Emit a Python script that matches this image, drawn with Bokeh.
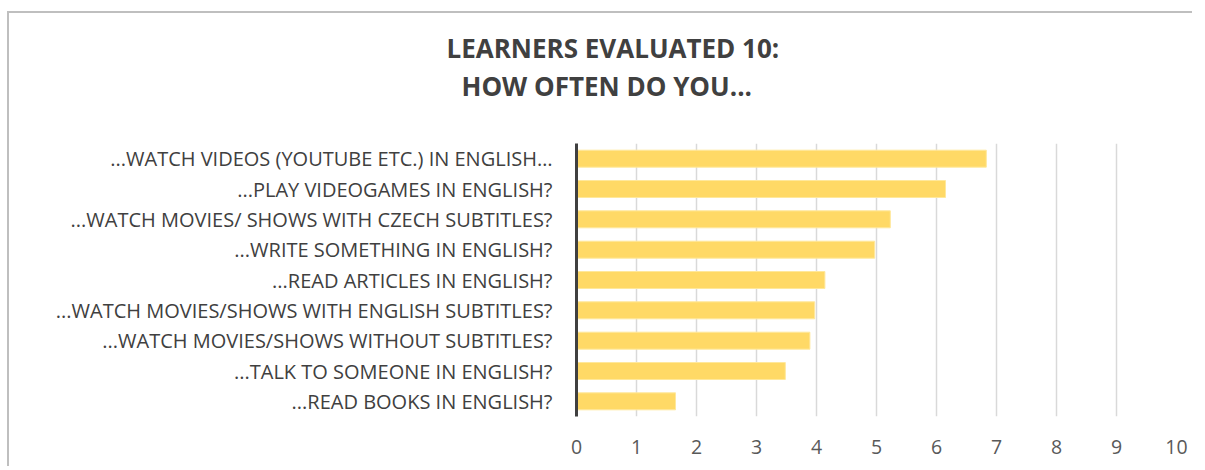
from bokeh.plotting import figure
from bokeh.models import FactorRange, Range1d, Title, FixedTicker, ColumnDataSource
from bokeh.embed import file_html
from bokeh.resources import INLINE

title_lines = ["LEARNERS EVALUATED 10:", "HOW OFTEN DO YOU..."]
categories = [
    "...WATCH VIDEOS (YOUTUBE ETC.) IN ENGLISH…",
    "...PLAY VIDEOGAMES IN ENGLISH?",
    "...WATCH MOVIES/ SHOWS WITH CZECH SUBTITLES?",
    "...WRITE SOMETHING IN ENGLISH?",
    "...READ ARTICLES IN ENGLISH?",
    "...WATCH MOVIES/SHOWS WITH ENGLISH SUBTITLES?",
    "...WATCH MOVIES/SHOWS WITHOUT SUBTITLES?",
    "...TALK TO SOMEONE IN ENGLISH?",
    "...READ BOOKS IN ENGLISH?",
]
values = [6.83, 6.15, 5.23, 4.97, 4.14, 3.97, 3.89, 3.48, 1.65]
x_ticks = [0, 1, 2, 3, 4, 5, 6, 7, 8, 9, 10]

FONT = "Open Sans"

p = figure(
    width=1185, height=455,
    y_range=FactorRange(factors=list(reversed(categories))),
    x_range=Range1d(0, 10),
    output_backend="svg", toolbar_location=None,
    min_border_left=567, min_border_right=18, min_border_top=130, min_border_bottom=52,
)
p.styles = {"border-top": "2px solid #BFBFBF", "border-left": "2px solid #BFBFBF",
            "margin-top": "11px", "margin-left": "7px"}
p.outline_line_color = None
p.background_fill_color = "white"
p.border_fill_color = "white"

src = ColumnDataSource(dict(cat=categories, val=values))
p.hbar(y="cat", right="val", left=0, height=0.56, source=src,
       fill_color="#FFD966", line_color="#FFE89C", line_width=1)

# axes
p.xaxis.ticker = FixedTicker(ticks=x_ticks)
p.xaxis.axis_line_color = None
p.xaxis.major_tick_line_color = None
p.xaxis.minor_tick_line_color = None
p.xaxis.major_label_text_font = FONT
p.xaxis.major_label_text_font_size = "19.5px"
p.xaxis.major_label_text_color = "#595959"
p.xaxis.major_label_standoff = 17

p.yaxis.axis_line_color = "#404040"
p.yaxis.axis_line_width = 3
p.yaxis.major_tick_line_color = None
p.yaxis.minor_tick_line_color = None
p.yaxis.major_label_text_font = FONT
p.yaxis.major_label_text_font_size = "20px"
p.yaxis.major_label_text_color = "#404040"
p.yaxis.major_label_standoff = 18

p.xgrid.grid_line_color = "#D9D9D9"
p.xgrid.grid_line_width = 1.5
p.xgrid.ticker = FixedTicker(ticks=x_ticks)
p.ygrid.grid_line_color = None

# spacer between the plot and the title block
p.add_layout(Title(text=" ", text_font_size="1px", standoff=37), "above")
# title lines: the line nearest the plot is added first
offsets = [-130, -115]
for t, off in reversed(list(zip(title_lines, offsets))):
    p.add_layout(Title(text=t, align="left", offset=off,
                       text_font=FONT, text_font_style="bold", text_font_size="26px",
                       text_color="#404040", standoff=0), "above")

open("out.html", "w").write(file_html(p, INLINE))
